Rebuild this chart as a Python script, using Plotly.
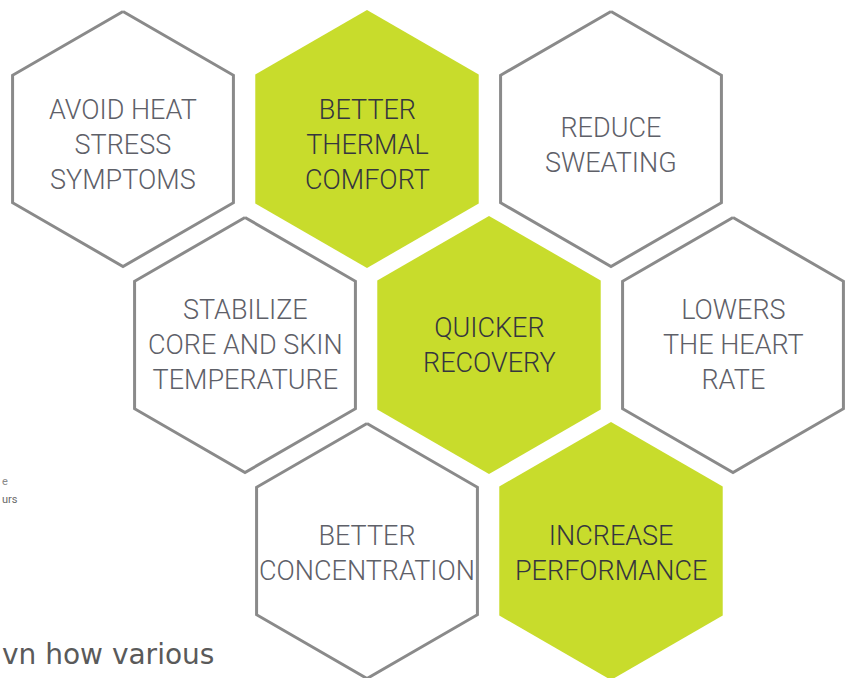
import numpy as np
import plotly.graph_objects as go

# hexagon cells: label, column (half steps), row, highlighted
labels = [
    "AVOID HEAT<br>STRESS<br>SYMPTOMS",
    "BETTER<br>THERMAL<br>COMFORT",
    "REDUCE<br>SWEATING",
    "STABILIZE<br>CORE AND SKIN<br>TEMPERATURE",
    "QUICKER<br>RECOVERY",
    "LOWERS<br>THE HEART<br>RATE",
    "BETTER<br>CONCENTRATION",
    "INCREASE<br>PERFORMANCE",
]
cols = [0, 2, 4, 1, 3, 5, 2, 4]
rows = [0, 0, 0, 1, 1, 1, 2, 2]
highlight = [False, True, False, False, True, False, False, True]

GREEN = "#c8dc2c"
GREY = "#8a8a8a"
X0, DX = 123, 122
Y0, DY = 139, 206
R = 129
TEXT_NUDGE = {0: 6, 1: 0, 2: 2}


def hexagon(cx, cy, r):
    ang = np.radians([90, 30, -30, -90, -150, 150, 90])
    return cx + r * np.cos(ang), cy - r * np.sin(ang)


fig = go.Figure()
annotations = []
for lab, c, rw, hl in zip(labels, cols, rows, highlight):
    cx, cy = X0 + c * DX, Y0 + rw * DY
    if hl:
        hx, hy = hexagon(cx, cy, R)
        fig.add_trace(go.Scatter(x=hx, y=hy, mode="lines", fill="toself",
                                 fillcolor=GREEN, line=dict(width=0, color=GREEN),
                                 hoverinfo="skip", showlegend=False))
    else:
        hx, hy = hexagon(cx, cy, R - 1.5)
        fig.add_trace(go.Scatter(x=hx, y=hy, mode="lines", fill="toself",
                                 fillcolor="white", line=dict(width=3, color=GREY),
                                 hoverinfo="skip", showlegend=False))
    annotations.append(dict(
        x=cx, y=cy + TEXT_NUDGE[rw], text=lab, showarrow=False,
        xanchor="center", yanchor="middle", align="center",
        font=dict(family="Roboto", size=27, weight=300,
                  color="#35353f" if hl else "#5e6068")))

# cut-off page text around the graphic
annotations.append(dict(x=0, y=654, text="vn how various", showarrow=False,
                        xanchor="left", yanchor="middle",
                        font=dict(family="DejaVu Sans", size=28, color="#5a5a5a")))
annotations.append(dict(x=0, y=481, text="e", showarrow=False, xanchor="left",
                        yanchor="middle", font=dict(family="Roboto", size=11, color="#8a8a8a")))
annotations.append(dict(x=0, y=499, text="urs", showarrow=False, xanchor="left",
                        yanchor="middle", font=dict(family="Roboto", size=11, color="#6a6a6a")))

fig.update_layout(
    width=853, height=678,
    margin=dict(l=0, r=0, t=0, b=0),
    paper_bgcolor="white", plot_bgcolor="white",
    xaxis=dict(range=[0, 853], visible=False, fixedrange=True),
    yaxis=dict(range=[678, 0], visible=False, fixedrange=True),
    annotations=annotations,
    showlegend=False,
)

fig.write_html("out.html", config={"displayModeBar": False},
               post_script="document.body.style.margin='0';")
